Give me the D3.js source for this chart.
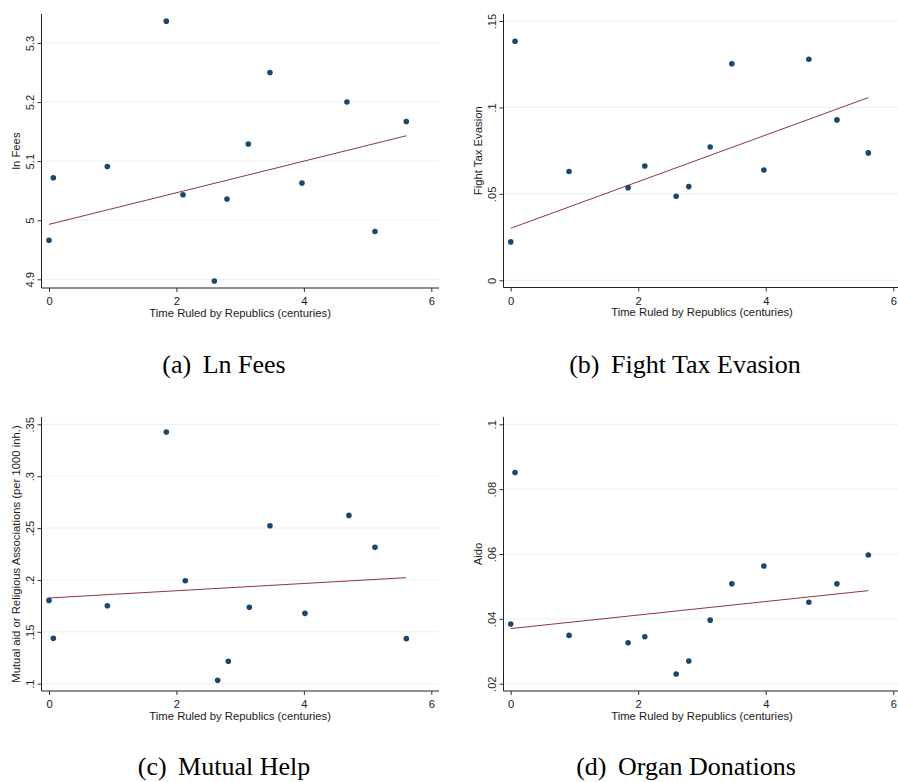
<!DOCTYPE html>
<html>
<head>
<meta charset="utf-8">
<script src="https://cdn.jsdelivr.net/npm/d3@7"></script>
<style>
  body { margin: 0; background: #fff; }
  svg { display: block; }
  .tick text { font-family: "Liberation Sans", Arial, sans-serif; font-size: 11.2px; fill: #1a1a1a; }
  .title { font-family: "Liberation Sans", Arial, sans-serif; font-size: 11.3px; fill: #1a1a1a; }
  .caption { font-family: "Liberation Serif", "Times New Roman", serif; font-size: 26px; fill: #000; }
</style>
</head>
<body>
<svg id="chart" width="898" height="782"></svg>
<script>
// x: time ruled by republics (centuries), one value per municipality
const years = [0, 0.068, 0.915, 1.841, 2.103, 2.595, 2.793, 3.128, 3.468, 3.970, 4.676, 5.116, 5.608];
const yearsMutual = [0, 0.068, 0.915, 1.841, 2.139, 2.647, 2.814, 3.144, 3.468, 4.017, 4.707, 5.116, 5.608];

const lnFees = [4.966, 5.072, 5.091, 5.337, 5.043, 4.897, 5.036, 5.129, 5.250, 5.063, 5.200, 4.981, 5.167];
const taxEvasion = [0.0222, 0.1383, 0.0629, 0.0536, 0.0661, 0.0486, 0.0542, 0.0771, 0.1253, 0.0638, 0.1279, 0.0928, 0.0737];
const mutualAid = [0.1803, 0.1437, 0.1751, 0.3425, 0.1992, 0.1033, 0.1216, 0.1736, 0.2522, 0.1678, 0.2622, 0.2314, 0.1434];
const aido = [0.0384, 0.0851, 0.0349, 0.0326, 0.0345, 0.0230, 0.0270, 0.0396, 0.0508, 0.0563, 0.0451, 0.0508, 0.0597];

// fitted line values at min and max x
const fitFees = [4.993, 5.143];
const fitTax = [0.0301, 0.1057];
const fitMutual = [0.1826, 0.2022];
const fitAido = [0.0370, 0.0487];

const xTicks = [0, 2, 4, 6];
const feesTicks = [4.9, 5, 5.1, 5.2, 5.3];
const taxTicks = [0, 0.05, 0.1, 0.15];
const mutualTicks = [0.1, 0.15, 0.2, 0.25, 0.3, 0.35];
const aidoTicks = [0.02, 0.04, 0.06, 0.08, 0.1];

const yTitles = ["ln Fees", "Fight Tax Evasion", "Mutual aid or Religious Associations (per 1000 inh.)", "Aido"];
const captionTags = ["(a)", "(b)", "(c)", "(d)"];
const captionNames = ["Ln Fees", "Fight Tax Evasion", "Mutual Help", "Organ Donations"];

const xTitle = "Time Ruled by Republics (centuries)";

// stata drops the leading zero
const stataFmt = v => String(+v.toFixed(3)).replace(/^0\./, '.');

const panels = [
  { xs: years, ys: lnFees, fit: fitFees, ticks: feesTicks,
    axisX: 41.5, top: 14, bottom: 288, right: 439,
    xRange: [49, 431.3], yRange: [279.3, 43], capX: 224, capY: 373 },
  { xs: years, ys: taxEvasion, fit: fitTax, ticks: taxTicks,
    axisX: 503.5, top: 14, bottom: 287.5, right: 898,
    xRange: [510.7, 893.3], yRange: [280.3, 21], capX: 685, capY: 373 },
  { xs: yearsMutual, ys: mutualAid, fit: fitMutual, ticks: mutualTicks,
    axisX: 41.5, top: 417, bottom: 691, right: 439,
    xRange: [49, 431.3], yRange: [683.7, 424.3], capX: 224, capY: 775 },
  { xs: years, ys: aido, fit: fitAido, ticks: aidoTicks,
    axisX: 503.5, top: 417, bottom: 691, right: 898,
    xRange: [510.7, 893.3], yRange: [683.7, 424.3], capX: 686, capY: 775 }
];

const svg = d3.select('#chart');

panels.forEach((p, i) => {
  const x = d3.scaleLinear().domain([0, 6]).range(p.xRange);
  const y = d3.scaleLinear()
    .domain([p.ticks[0], p.ticks[p.ticks.length - 1]])
    .range(p.yRange);

  const g = svg.append('g');

  // grid
  g.append('g')
    .selectAll('line')
    .data(p.ticks)
    .enter().append('line')
    .attr('x1', p.axisX)
    .attr('x2', p.right)
    .attr('y1', d => y(d))
    .attr('y2', d => y(d))
    .attr('stroke', '#e9f0f1')
    .attr('stroke-width', 1);

  // y axis
  const yAx = g.append('g')
    .attr('transform', `translate(${p.axisX},0)`)
    .call(d3.axisLeft(y).tickValues(p.ticks).tickFormat(stataFmt).tickSize(4).tickSizeOuter(0));
  yAx.select('.domain').remove();
  yAx.selectAll('.tick line').attr('stroke', '#333');
  yAx.selectAll('.tick text')
    .attr('transform', 'rotate(-90)')
    .attr('x', 0)
    .attr('y', -8)
    .attr('dy', 0)
    .attr('text-anchor', 'middle');
  yAx.attr('font-family', null).attr('font-size', null);

  // x axis
  const xAx = g.append('g')
    .attr('transform', `translate(0,${p.bottom})`)
    .call(d3.axisBottom(x).tickValues(xTicks).tickFormat(d3.format('d')).tickSize(4).tickSizeOuter(0));
  xAx.select('.domain').remove();
  xAx.selectAll('.tick line').attr('stroke', '#333');
  xAx.selectAll('.tick text').attr('y', 17).attr('dy', 0);
  xAx.attr('font-family', null).attr('font-size', null);

  // axis lines
  g.append('line')
    .attr('x1', p.axisX).attr('x2', p.axisX)
    .attr('y1', p.top).attr('y2', p.bottom)
    .attr('stroke', '#222').attr('stroke-width', 1);
  g.append('line')
    .attr('x1', p.axisX).attr('x2', p.right)
    .attr('y1', p.bottom).attr('y2', p.bottom)
    .attr('stroke', '#222').attr('stroke-width', 1);

  // titles
  g.append('text')
    .attr('class', 'title')
    .attr('x', (p.xRange[0] + p.xRange[1]) / 2)
    .attr('y', p.bottom + 28.5)
    .attr('text-anchor', 'middle')
    .text(xTitle);

  const midY = (p.top + p.bottom) / 2;
  g.append('text')
    .attr('class', 'title')
    .attr('transform', `translate(${p.axisX - 22},${midY}) rotate(-90)`)
    .attr('text-anchor', 'middle')
    .text(yTitles[i]);

  // fitted line
  const x0 = d3.min(p.xs), x1 = d3.max(p.xs);
  g.append('line')
    .attr('x1', x(x0)).attr('y1', y(p.fit[0]))
    .attr('x2', x(x1)).attr('y2', y(p.fit[1]))
    .attr('stroke', '#90353b')
    .attr('stroke-width', 1);

  // points
  g.append('g')
    .selectAll('circle')
    .data(p.xs.map((v, k) => [v, p.ys[k]]))
    .enter().append('circle')
    .attr('cx', d => x(d[0]))
    .attr('cy', d => y(d[1]))
    .attr('r', 2.8)
    .attr('fill', '#1a476f');

  // caption
  const cap = svg.append('text')
    .attr('class', 'caption')
    .attr('x', p.capX)
    .attr('y', p.capY)
    .attr('text-anchor', 'middle');
  cap.append('tspan').text(captionTags[i]);
  cap.append('tspan').attr('dx', 11.5).text(captionNames[i]);
});
</script>
</body>
</html>
